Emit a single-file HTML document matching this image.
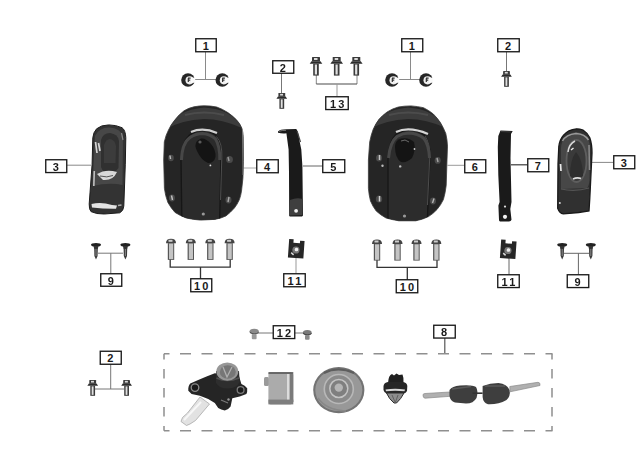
<!DOCTYPE html>
<html><head><meta charset="utf-8">
<style>
html,body{margin:0;padding:0;background:#fff;width:644px;height:452px;overflow:hidden}
svg{display:block;filter:blur(0.3px)}
.lb rect{fill:#fff;stroke:#1a1a1a;stroke-width:1.35}
.lb text{font-family:"Liberation Sans",sans-serif;font-weight:bold;font-size:11px;fill:#1a1a1a;text-anchor:middle;letter-spacing:0.8px}
.ln{stroke:#7a7a7a;stroke-width:1;fill:none}
</style></head><body>
<svg width="644" height="452" viewBox="0 0 644 452">
<defs>
  <radialGradient id="nut" cx="50%" cy="50%" r="50%">
    <stop offset="0" stop-color="#eee"/><stop offset="0.45" stop-color="#888"/><stop offset="0.6" stop-color="#222"/><stop offset="1" stop-color="#333"/>
  </radialGradient>
  <linearGradient id="bolt" x1="0" x2="1" y1="0" y2="0">
    <stop offset="0" stop-color="#555"/><stop offset="0.5" stop-color="#ccc"/><stop offset="1" stop-color="#666"/>
  </linearGradient>
  <linearGradient id="coverTop" x1="0" x2="0" y1="0" y2="1">
    <stop offset="0" stop-color="#4a4a4a"/><stop offset="0.3" stop-color="#333"/><stop offset="1" stop-color="#222"/>
  </linearGradient>

  <g id="fb">
    <path d="M-4 0.5 Q-4 0 -3.5 0 L3.5 0 Q4 0 4 0.5 L4 4.3 L-4 4.3 Z" fill="#3a3a3a"/>
    <rect x="-2" y="1" width="3.5" height="2" fill="#d8d8d8"/>
    <path d="M-6.3 6.8 L-4.5 4.2 L4.5 4.2 L6.3 6.8 Z" fill="#2c2c2c"/>
    <rect x="-2.8" y="6.8" width="5.6" height="11.8" fill="#3a3a3a"/>
    <rect x="-1.2" y="7.5" width="2.2" height="10" fill="#e0e0e0"/>
  </g>

  <g id="scr">
    <ellipse cx="0" cy="1.8" rx="5" ry="1.9" fill="#222"/>
    <path d="M-2.5 3 L2.5 3 L1.8 6 L-1.8 6 Z" fill="#333"/>
    <path d="M-1.8 5.5 L1.8 5.5 L1.6 13 L0 16.5 L-1.6 13 Z" fill="#3a3a3a"/>
    <rect x="-0.5" y="6" width="1" height="7" fill="#888"/>
  </g>
  <g id="b10">
    <path d="M-5 4.4 Q-5 0 0 0 Q5 0 5 4.4 Z" fill="#444"/>
    <rect x="-2.5" y="1" width="4" height="2" fill="#ccc"/>
    <rect x="-3.2" y="4.3" width="6.4" height="16.8" fill="#555"/>
    <rect x="-2" y="4.8" width="4.2" height="15.5" fill="#c4c4c4"/>
  </g>
  <g id="clip">
    <path d="M-7.5 -9.5 L-3 -9.5 L-3 -6 L3.5 -6 L3.5 -8.5 L8 -8.5 L8 9 L-7.5 9 Z" fill="#262626"/>
    <circle cx="0" cy="1" r="3.6" fill="#777"/>
    <circle cx="0.5" cy="0.5" r="1.8" fill="#eee"/>
    <path d="M-4.5 4 L-2 6" stroke="#ddd" stroke-width="1.5"/>
  </g>

  <clipPath id="c4"><path d="M163.7 160 L164.3 141.9 Q165.8 135 168.5 130 Q171 124.5 174.8 120 Q179 114.5 184 110.8 Q188.5 108 194 106.8 Q199 105.8 204.1 105.8 Q211 105.8 216.7 107 Q222.5 109 227.9 112.6 Q232.5 115.8 236.3 119.6 Q240 123.5 241.8 128 Q243 132 243.2 136.3 L243.5 161.5 L242.9 178.4 L241.5 191.1 Q240.8 195.6 239.4 199.6 Q237.2 204.5 234.4 208 Q230.5 212.5 226 215.9 Q220.5 218.6 214.6 219.4 L200.5 220.1 Q193 219.6 186.3 218 Q180 215.6 175 212.4 Q170.8 207.8 167.9 202.5 Q165.2 195.5 164.4 188.3 Z"/></clipPath>
  <clipPath id="c6"><path d="M368.4 160 L369.7 141.9 Q371 135 373.2 129.3 Q375.5 124 378.8 119.6 Q382.5 115.2 387.2 111.9 Q392.5 108.6 398.3 107 Q404.5 105.9 410.9 105.9 Q417.5 106.3 423.5 107.7 Q428.8 110.3 433.3 114 Q437.3 118 440.3 122.4 Q443.4 127.5 445.8 133.5 Q447.2 139.5 447.5 146.1 L447 160 L446.2 185.5 Q445.3 193 443.4 199.6 Q440.8 205 437 209.5 Q433 213.8 428.5 216.6 Q422.5 219.6 415.8 220.8 L398.8 220.8 Q392 219.7 386 218 Q380.5 215 376.2 211 Q372.8 206.5 370.5 201 Q368.9 194.8 368.4 188.3 Z"/></clipPath>
</defs>

<!-- ========== connector lines ========== -->
<g fill="none" stroke-width="1">
  <!-- 1 L -->
  <path d="M205.5 52 V79.5 M193 79.5 H217" stroke="#8a8a8a"/>
  <!-- 2 top -->
  <path d="M281.5 73 V93" stroke="#777"/>
  <!-- 13 -->
  <path d="M316.3 75 V84 M357 75 V84" stroke="#888"/>
  <path d="M316.3 84 H357" stroke="#4a4a4a" stroke-width="1.2"/>
  <path d="M337 84 V96.5" stroke="#999"/>
  <!-- 1 R -->
  <path d="M410.5 52 V79.5 M395 79.5 H422" stroke="#8a8a8a"/>
  <!-- 2 R -->
  <path d="M506.5 52 V71" stroke="#777"/>
  <!-- 3 L -->
  <path d="M67 165.2 H91" stroke="#888"/>
  <!-- 4 -->
  <path d="M242 168 H256.5" stroke="#aaa"/>
  <!-- 5 -->
  <path d="M303 166 H322.5" stroke="#666"/>
  <!-- 6 -->
  <path d="M447.5 165.3 H464.5" stroke="#9a9a9a"/>
  <!-- 7 -->
  <path d="M511 164.8 H527.5" stroke="#3a3a3a" stroke-width="1.2"/>
  <!-- 3 R -->
  <path d="M591 162.4 H613.5" stroke="#888"/>
  <!-- 9 L -->
  <path d="M98 253.2 H123 M110.8 253.2 V273.6" stroke="#777"/>
  <!-- 10 L -->
  <path d="M170.2 258 V267.2 H230.2 V258 M200.5 267.2 V279" stroke="#333" stroke-width="1.3"/>
  <!-- 11 L -->
  <path d="M296 256 V273.6" stroke="#999"/>
  <!-- 10 R -->
  <path d="M377 258 V267.4 H437 V258 M407.3 267.4 V280" stroke="#333" stroke-width="1.3"/>
  <!-- 11 R -->
  <path d="M509 257 V274.4" stroke="#666"/>
  <!-- 9 R -->
  <path d="M564 253.3 H589 M578.4 253.3 V274.4" stroke="#666"/>
  <!-- 12 -->
  <path d="M258 333 H273 M295 333 H304" stroke="#777"/>
  <!-- 2 B -->
  <path d="M110.7 364.4 V389 M95 389 H124" stroke="#777"/>
  <!-- 8 -->
  <path d="M444.8 338 V353" stroke="#555" stroke-width="1.2"/>
</g>

<!-- dashed box -->
<g stroke="#8f8f8f" stroke-width="1.5" fill="none">
  <path d="M164 353.7 H552.5" stroke-dasharray="11 10.5" stroke-dashoffset="5.5"/>
  <path d="M164 430.7 H552.5" stroke-dasharray="11 10.5" stroke-dashoffset="5.5"/>
  <path d="M164 353.7 V430.7" stroke-dasharray="9.5 9.5" stroke-dashoffset="3.7"/>
  <path d="M552 353.7 V430.7" stroke-dasharray="9.5 9.5" stroke-dashoffset="3.7"/>
</g>

<!-- ========== labels ========== -->
<g class="lb">
  <g transform="translate(195.75,38.75)"><rect width="20.5" height="13"/><text x="10.5" y="11">1</text></g>
  <g transform="translate(272.75,60.75)"><rect width="21" height="12.5"/><text x="10.5" y="10.8">2</text></g>
  <g transform="translate(325.75,96.75)"><rect width="22.5" height="12.8"/><text x="12.5" y="11" style="letter-spacing:2.2px">13</text></g>
  <g transform="translate(401.75,38.75)"><rect width="21" height="13"/><text x="10.5" y="11">1</text></g>
  <g transform="translate(497.75,38.75)"><rect width="21.5" height="13"/><text x="10.8" y="11">2</text></g>
  <g transform="translate(45.75,159.75)"><rect width="21" height="12.8"/><text x="10.5" y="11">3</text></g>
  <g transform="translate(256.75,159.75)"><rect width="21.5" height="13"/><text x="10.8" y="11">4</text></g>
  <g transform="translate(322.75,159.75)"><rect width="22" height="12.8"/><text x="11" y="11">5</text></g>
  <g transform="translate(464.75,159.75)"><rect width="21" height="13"/><text x="10.5" y="11">6</text></g>
  <g transform="translate(527.75,158.75)"><rect width="21" height="13"/><text x="10.5" y="11">7</text></g>
  <g transform="translate(613.75,155.75)"><rect width="21" height="13"/><text x="10.5" y="11">3</text></g>
  <g transform="translate(100.75,273.75)"><rect width="21" height="12.5"/><text x="10.5" y="10.8">9</text></g>
  <g transform="translate(190.75,278.75)"><rect width="21" height="13"/><text x="11.5" y="11" style="letter-spacing:2.2px">10</text></g>
  <g transform="translate(283.75,273.75)"><rect width="21.5" height="13"/><text x="11.8" y="11" style="letter-spacing:2.2px">11</text></g>
  <g transform="translate(396.25,279.75)"><rect width="21.5" height="13"/><text x="11.8" y="11" style="letter-spacing:2.2px">10</text></g>
  <g transform="translate(497.75,274.75)"><rect width="21.5" height="12.8"/><text x="11.8" y="11" style="letter-spacing:2.2px">11</text></g>
  <g transform="translate(567.25,274.75)"><rect width="21.5" height="12.8"/><text x="10.8" y="11">9</text></g>
  <g transform="translate(273.25,325.75)"><rect width="21.5" height="12.8"/><text x="11.8" y="11" style="letter-spacing:2.2px">12</text></g>
  <g transform="translate(100.25,351.25)"><rect width="21" height="13"/><text x="10.5" y="11">2</text></g>
  <g transform="translate(433.75,325.25)"><rect width="21.5" height="12.8"/><text x="10.8" y="11">8</text></g>
</g>

<!-- ========== parts ========== -->
<!-- nuts part 1 -->
<g>
  <g transform="translate(188,80)"><circle r="6.8" fill="#262626"/><circle cx="1.6" cy="0.3" r="4.1" fill="#efefef"/><rect x="3" y="-2.4" width="4.2" height="5.2" fill="#fafafa"/><path d="M0 -1.8 H2.6 M0.3 -1.8 V2 M0.3 0.2 H2.2" stroke="#333" stroke-width="1.2" fill="none"/></g>
  <g transform="translate(222.3,80)"><circle r="6.8" fill="#262626"/><circle cx="1.6" cy="0.3" r="4.1" fill="#efefef"/><rect x="3" y="-2.4" width="4.2" height="5.2" fill="#fafafa"/><path d="M0 -1.8 H2.6 M0.3 -1.8 V2 M0.3 0.2 H2.2" stroke="#333" stroke-width="1.2" fill="none"/></g>
  <g transform="translate(392,80)"><circle r="6.8" fill="#262626"/><circle cx="1.6" cy="0.3" r="4.1" fill="#efefef"/><rect x="3" y="-2.4" width="4.2" height="5.2" fill="#fafafa"/><path d="M0 -1.8 H2.6 M0.3 -1.8 V2 M0.3 0.2 H2.2" stroke="#333" stroke-width="1.2" fill="none"/></g>
  <g transform="translate(426,80)"><circle r="6.8" fill="#262626"/><circle cx="1.6" cy="0.3" r="4.1" fill="#efefef"/><rect x="3" y="-2.4" width="4.2" height="5.2" fill="#fafafa"/><path d="M0 -1.8 H2.6 M0.3 -1.8 V2 M0.3 0.2 H2.2" stroke="#333" stroke-width="1.2" fill="none"/></g>
</g>

<!-- flange bolts (part 2, 13) -->
<g>
  <g transform="translate(281.8,93)"><use href="#fb" transform="scale(0.85)"/></g>
  <g transform="translate(316,57)"><use href="#fb"/></g>
  <g transform="translate(336.7,57)"><use href="#fb"/></g>
  <g transform="translate(356.3,57)"><use href="#fb"/></g>
  <g transform="translate(506.5,71)"><use href="#fb" transform="scale(0.85)"/></g>
  <g transform="translate(92.7,380)"><use href="#fb" transform="scale(0.85)"/></g>
  <g transform="translate(126.6,380)"><use href="#fb" transform="scale(0.85)"/></g>
</g>

<!-- part 3 left -->
<g>
  <path d="M108.7 124.9 Q101 125 96.6 128.8 Q93.5 132 92.8 137.7 L92.1 164.2 L90 192.9 L89.2 204 Q89 209.5 91 211.6 Q96 214.2 104.3 214 L119.8 212.8 Q123.5 211 123.8 206.1 L125.3 164.2 L125.8 137.7 Q125.5 130 122 127.7 Q116 124.9 108.7 124.9 Z" fill="#333" stroke="#1c1c1c" stroke-width="1"/>
  <path d="M95 136 Q99 127.5 109 127.5 Q121 128 123 137 L122.5 185 Q110 182 92.5 186 Z" fill="#474747"/>
  <path d="M101 140 Q103 133 110 133 Q118 134 119 141 L118.5 168 Q114 174 109 174 Q103 173 101 167 Z" fill="#303030"/>
  <path d="M104 145 Q106 139 110 139 Q115 140 116 146 L115.5 163 L104 163 Z" fill="#3c3c3c"/>
  <path d="M95.5 142 L97 153 M98.5 143 L100 151" stroke="#d5d5d5" stroke-width="1.7"/>
  <path d="M94.3 171 L93.8 186" stroke="#c0c0c0" stroke-width="1.6"/>
  <path d="M97 174 Q106 168.5 117 172 Q113 181 103 180 Z" fill="#d8d8d8"/>
  <path d="M100 176 Q107 178 113 175.5" stroke="#555" stroke-width="1" fill="none"/>
  <path d="M91.5 204 Q101 201.5 112 205 L117 205.5 L116 208.8 Q104 209 92 207.5 Z" fill="#e4e4e4"/>
  <path d="M118 205.5 L121.5 205" stroke="#aaa" stroke-width="1.4"/>
  <path d="M121.5 133 L123 140" stroke="#8a8a8a" stroke-width="1.2"/>
</g>
<!-- part 4 cover -->
<g>
  <path d="M163.7 160 L164.3 141.9 Q165.8 135 168.5 130 Q171 124.5 174.8 120 Q179 114.5 184 110.8 Q188.5 108 194 106.8 Q199 105.8 204.1 105.8 Q211 105.8 216.7 107 Q222.5 109 227.9 112.6 Q232.5 115.8 236.3 119.6 Q240 123.5 241.8 128 Q243 132 243.2 136.3 L243.5 161.5 L242.9 178.4 L241.5 191.1 Q240.8 195.6 239.4 199.6 Q237.2 204.5 234.4 208 Q230.5 212.5 226 215.9 Q220.5 218.6 214.6 219.4 L200.5 220.1 Q193 219.6 186.3 218 Q180 215.6 175 212.4 Q170.8 207.8 167.9 202.5 Q165.2 195.5 164.4 188.3 Z" fill="#252525" stroke="#3a3a3a" stroke-width="0.8"/>
  <path d="M166 129 Q176 110 204 107.5 Q232 109 242 128 Q222 119 204 119 Q182 120 166 129 Z" fill="#3c3c3c" clip-path="url(#c4)"/>
  <path d="M185 115 Q204 110 224 115" stroke="#4c4c4c" stroke-width="2" fill="none"/>
  <path d="M182 228 L181 160 Q181.5 142 189.5 135 Q196 130.5 202 130.5 Q210 130.5 215.5 135 Q222 142 221 158 L219.5 228" fill="#2b2b2b" stroke="#161616" stroke-width="1.3" clip-path="url(#c4)"/>
  <path d="M216.5 136.5 Q222.5 143 221.8 158 L220.5 200" stroke="#5a5a5a" stroke-width="0.8" fill="none"/>
  <path d="M191 132 Q203 127 217 133" stroke="#cfcfcf" stroke-width="2.2" fill="none"/>
  <path d="M181.5 160 Q182 143 190 137.5 Q196 133.5 202.5 133.5 Q210 134 215.5 139 Q220 146 219.8 160" stroke="#474747" stroke-width="3" fill="none"/>
  <path d="M197 141 Q194 145 197 151 Q201 160 208 163 Q214 163 215.5 157 Q216 150 211 144 Q206 138 201 138.5 Z" fill="#141414"/>
  <circle cx="200" cy="142" r="1.6" fill="#5a5a5a"/>
  <circle cx="210.4" cy="165.4" r="0.9" fill="#ddd"/>
  <ellipse cx="171" cy="158" rx="2.8" ry="3.2" fill="#4a4a4a"/>
  <path d="M170 155.5 L170.5 159" stroke="#bbb" stroke-width="1.4"/>
  <ellipse cx="229.5" cy="159.5" rx="3.4" ry="3.6" fill="#4a4a4a"/>
  <path d="M228 157 L229 161" stroke="#999" stroke-width="1.4"/>
  <ellipse cx="172" cy="198" rx="3" ry="3.4" fill="#4a4a4a"/>
  <path d="M171.5 195.5 L172.5 200" stroke="#c5c5c5" stroke-width="1.4"/>
  <ellipse cx="228.5" cy="200" rx="3" ry="3.4" fill="#4a4a4a"/>
  <path d="M229 197 L228 202" stroke="#aaa" stroke-width="1.4"/>
  <circle cx="203.3" cy="214" r="1.6" fill="#999"/>
  <path d="M242.5 130 L243 175" stroke="#8a8a8a" stroke-width="0.8"/>
</g>
<!-- part 5 strap -->
<g>
  <path d="M278 131.5 Q280 129.3 286.4 129.2 L296.3 128.9 Q298.5 132 299 138.6 L301.3 149.6 L302.4 166.2 L303 215.4 L302 216.5 L290 216.5 L289.2 216 L289 171.7 L288.6 149.6 L286.4 133.3 Q282 133.8 278 132.8 Z" fill="#1a1a1a"/>
  <path d="M279 131.3 Q282 130.2 286 130.3" stroke="#777" stroke-width="1" fill="none"/>
  <path d="M297 131 L300.5 142" stroke="#444" stroke-width="1.2"/>
  <path d="M290 200 Q297 197 302.5 199 L302.5 215 L290 215.5 Z" fill="#3f3f3f"/>
  <circle cx="296.1" cy="210.8" r="1.9" fill="#f0f0f0"/>
</g>
<!-- part 6 cover -->
<g>
  <path d="M368.4 160 L369.7 141.9 Q371 135 373.2 129.3 Q375.5 124 378.8 119.6 Q382.5 115.2 387.2 111.9 Q392.5 108.6 398.3 107 Q404.5 105.9 410.9 105.9 Q417.5 106.3 423.5 107.7 Q428.8 110.3 433.3 114 Q437.3 118 440.3 122.4 Q443.4 127.5 445.8 133.5 Q447.2 139.5 447.5 146.1 L447 160 L446.2 185.5 Q445.3 193 443.4 199.6 Q440.8 205 437 209.5 Q433 213.8 428.5 216.6 Q422.5 219.6 415.8 220.8 L398.8 220.8 Q392 219.7 386 218 Q380.5 215 376.2 211 Q372.8 206.5 370.5 201 Q368.9 194.8 368.4 188.3 Z" fill="#252525" stroke="#3a3a3a" stroke-width="0.8"/>
  <path d="M370 129 Q380 110 408 107.5 Q434 109 446 128 Q426 119 408 119 Q386 120 370 129 Z" fill="#3c3c3c" clip-path="url(#c6)"/>
  <path d="M389 115 Q408 110 428 115" stroke="#4c4c4c" stroke-width="2" fill="none"/>
  <path d="M388 228 L388 158 Q389 141 396 134.5 Q403 130 409 130 Q418 130 424 135 Q430 142 430 156 L427 228" fill="#2c2c2c" stroke="#161616" stroke-width="1.3" clip-path="url(#c6)"/>
  <path d="M425 136 Q430 143 429.8 156 L427.5 205" stroke="#5a5a5a" stroke-width="0.8" fill="none"/>
  <path d="M396 132 Q409 126 428 134" stroke="#d4d4d4" stroke-width="2.3" fill="none"/>
  <path d="M388.5 158 Q390 142 397 136.5 Q403 133 409 133 Q418 133.5 424 138.5 Q429 145 429.5 158" stroke="#484848" stroke-width="3" fill="none"/>
  <path d="M395 147 Q395 140 401 138.5 Q409 137 414 142 Q416 150 412 158 Q407 163 401 162 Q395 158 395 147 Z" fill="#141414"/>
  <path d="M401 141 L405 140 L409 142" stroke="#6a6a6a" stroke-width="1" fill="none"/>
  <circle cx="414.5" cy="149" r="0.9" fill="#ccc"/>
  <ellipse cx="379" cy="158" rx="3" ry="3.6" fill="#4a4a4a"/>
  <path d="M379.5 155 L379.5 160" stroke="#c5c5c5" stroke-width="1.5"/>
  <ellipse cx="437.7" cy="160.4" rx="3" ry="3.4" fill="#4a4a4a"/>
  <path d="M437 158 L438 162" stroke="#a5a5a5" stroke-width="1.4"/>
  <ellipse cx="379" cy="199" rx="3.2" ry="3.6" fill="#4a4a4a"/>
  <path d="M379.5 196 L379.5 201.5" stroke="#d0d0d0" stroke-width="1.5"/>
  <ellipse cx="433" cy="201" rx="3" ry="3.4" fill="#4a4a4a"/>
  <path d="M434 198.5 L432.5 203" stroke="#b5b5b5" stroke-width="1.4"/>
  <circle cx="404.5" cy="216" r="1.6" fill="#999"/>
  <circle cx="382.5" cy="165.7" r="1.2" fill="#bbb"/>
  <circle cx="400.2" cy="166.4" r="1.2" fill="#bbb"/>
</g>
<!-- part 7 strap -->
<g>
  <path d="M500.5 130.5 L512.7 131.1 L511 134 L510.5 158 L511.5 202 L510.3 209 L511.5 219.8 Q511 221.5 509 221.5 L500 221.5 Q498.8 221 499 219.8 L498.4 205.5 L499.6 202 L498.3 175 L497.8 147 L498.3 136 Z" fill="#1a1a1a"/>
  <path d="M501 131.5 L511.5 132" stroke="#3a3a3a" stroke-width="1.2"/>
  <circle cx="505" cy="206.6" r="1.1" fill="#ddd"/>
  <circle cx="505" cy="216.8" r="2.1" fill="#f2f2f2"/>
</g>
<!-- part 3 right -->
<g>
  <path d="M576.5 128.8 Q568 129.5 563.3 135.5 Q559.5 140 558.8 146.5 L558 164.2 L557.7 208.4 Q559.5 213.5 563.3 213.9 L578.7 212.5 L589 211 Q589.8 200 590.4 186.3 L592 153.1 Q592 144 589.8 137.7 Q587 132.5 583 130 Q580 128.8 576.5 128.8 Z" fill="#303030" stroke="#1a1a1a" stroke-width="1.3"/>
  <path d="M561 148 Q562 134 576 132 Q588 133 590 146 L589.5 180 Q589 186 587 188 L561 189 Z" fill="#474747"/>
  <path d="M562.5 141 Q566 134.5 576 133.5 Q585 134 588.5 140" stroke="#9a9a9a" stroke-width="1.5" fill="none"/>
  <ellipse cx="576.5" cy="161" rx="10" ry="21" fill="#3a3a3a" stroke="#5e5e5e" stroke-width="1.8"/>
  <path d="M570 176 Q570 160 576 152 Q583 160 583 176 Q577 181 570 176 Z" fill="#2e2e2e"/>
  <path d="M568 152 Q569 144 575 141" stroke="#d8d8d8" stroke-width="1.5" fill="none"/>
  <path d="M571 150 L573.5 148" stroke="#eee" stroke-width="1.5"/>
  <path d="M589 145 L589.5 170" stroke="#8a8a8a" stroke-width="1.5"/>
  <path d="M573 179 Q577 177 581 178.5" stroke="#dcdcdc" stroke-width="1.6" fill="none"/>
  <path d="M560.5 164 L561 171" stroke="#e8e8e8" stroke-width="1.7"/>
  <circle cx="559.8" cy="203" r="1" fill="#ddd"/>
  <path d="M561 189 Q575 192 589 188" stroke="#555" stroke-width="1.2" fill="none"/>
</g>

<!-- screws part 9 -->
<g>
  <use href="#scr" x="96" y="243"/>
  <use href="#scr" x="125.4" y="243"/>
  <use href="#scr" x="562.2" y="243"/>
  <use href="#scr" x="590.8" y="243"/>
</g>
<!-- bolts part 10 -->
<g>
  <use href="#b10" x="171" y="238.8"/>
  <use href="#b10" x="190.8" y="238.8"/>
  <use href="#b10" x="210.3" y="238.8"/>
  <use href="#b10" x="229.6" y="238.8"/>
  <use href="#b10" x="377" y="239.5"/>
  <use href="#b10" x="397.5" y="239.5"/>
  <use href="#b10" x="416.5" y="239.5"/>
  <use href="#b10" x="436.3" y="239.5"/>
</g>
<!-- clips part 11 -->
<g>
  <g transform="translate(296,249) rotate(4)"><use href="#clip"/></g>
  <g transform="translate(508,249.5) rotate(4)"><use href="#clip"/></g>
</g>
<!-- part 12 screws -->
<g>
  <ellipse cx="254.2" cy="331.6" rx="4.7" ry="2.9" fill="#8a8a8a"/>
  <path d="M249.8 332 Q254 335.5 258.6 332.5" stroke="#555" stroke-width="1" fill="none"/>
  <rect x="251.8" y="334" width="4.8" height="5.2" rx="1" fill="#9a9a9a"/>
  <ellipse cx="307.3" cy="332.8" rx="4.4" ry="2.7" fill="#7a7a7a"/>
  <path d="M303 333 Q307 336.5 311.6 333.5" stroke="#444" stroke-width="1" fill="none"/>
  <rect x="305" y="335" width="4.6" height="4.8" rx="1" fill="#8a8a8a"/>
</g>

<!-- ignition switch -->
<g>
  <path d="M200 397 L209.5 404 L195.5 420.5 L190 424 L186.5 425.5 L181 421.5 L182.5 417.5 L187.5 413 Z" fill="#e2e2e2" stroke="#a8a8a8" stroke-width="0.8"/>
  <path d="M184 420 L201 402" stroke="#f7f7f7" stroke-width="2"/>
  <path d="M188.3 390.7 L188.3 388.2 Q189 384 190.8 383.2 L198.2 379.9 L206.5 376.6 L214.8 373.3 L238.9 376 Q240.5 381 241.4 384 Q245 385.5 247.2 388.2 Q247.5 392 246.4 394 L239.7 396.5 L232.3 398.2 L230.6 406.5 Q228 410 224.8 410.6 Q221 410 218.2 408.1 L214.8 403.1 L208.2 399 L199.9 395.7 L191.6 394 Z" fill="#252525"/>
  <circle cx="195" cy="387.6" r="3.8" fill="#1a1a1a" stroke="#8a8a8a" stroke-width="1.3"/>
  <circle cx="240.6" cy="390" r="3.4" fill="#1a1a1a" stroke="#7a7a7a" stroke-width="1.3"/>
  <path d="M216 371 L216 383 Q219 388.5 228 388.5 Q237 388 239.7 382 L239 371 Z" fill="#2e2e2e"/>
  <path d="M216.5 378 Q227 383 239 378" stroke="#505050" stroke-width="1.5" fill="none"/>
  <ellipse cx="227.3" cy="371.6" rx="11" ry="9.2" fill="#979797"/>
  <ellipse cx="227.8" cy="372" rx="8" ry="6.8" fill="#767676"/>
  <path d="M223 367 L227 377 L232 367" stroke="#b0b0b0" stroke-width="1.3" fill="none"/>
  <path d="M221 400 L228 403" stroke="#7a7a7a" stroke-width="1.2"/>
  <circle cx="228.5" cy="399.5" r="1.2" fill="#999"/>
</g>
<!-- lock barrel -->
<g>
  <rect x="264" y="377" width="5" height="9" rx="1.5" fill="#9a9a9a"/>
  <path d="M268.4 374 Q268.4 372.2 270.5 372.2 L291 372.2 Q293.3 373 293.3 375 L293.3 402 Q293 404.4 290.5 404.4 L270.5 404.4 Q268.4 404.4 268.4 402 Z" fill="#ababab"/>
  <rect x="268.4" y="372.2" width="24.9" height="1.6" fill="#555"/>
  <rect x="287" y="374" width="2.2" height="26" fill="#dcdcdc"/>
  <rect x="290" y="374" width="3.3" height="28" fill="#7a7a7a"/>
  <rect x="268.4" y="399.6" width="24.9" height="4.8" fill="#7e7e7e"/>
</g>
<!-- fuel cap -->
<g>
  <ellipse cx="338.8" cy="390.1" rx="25.6" ry="23.1" fill="#737373"/>
  <ellipse cx="338.8" cy="390.1" rx="23.5" ry="21" fill="#989898"/>
  <path d="M324 373 Q338 366 354 373" stroke="#5e5e5e" stroke-width="2.2" fill="none"/>
  <circle cx="338.8" cy="389" r="14.5" fill="#8a8a8a" stroke="#b8b8b8" stroke-width="1.6"/>
  <circle cx="338.8" cy="388.5" r="9" fill="#7f7f7f" stroke="#c4c4c4" stroke-width="1.5"/>
  <circle cx="338.8" cy="387.6" r="4.2" fill="#b5b5b5"/>
  <path d="M318 398 Q326 410 346 411" stroke="#888" stroke-width="1.5" fill="none"/>
</g>
<!-- small lock -->
<g>
  <path d="M388 383 Q388.5 375 392 374 L394 375.5 L396.5 373.5 L399 375 L402.5 374.5 Q404 378 403.5 383 Z" fill="#202020"/>
  <path d="M383.5 386 Q384 382.5 388 382 L403 382 Q407 382.5 407.3 386 L407 391 Q406 393 403.5 393.5 L386.5 393.5 Q384 392.5 383.5 390 Z" fill="#262626"/>
  <path d="M385.5 389.5 Q395 387.8 405 389.5 L404.5 391.3 Q395 390 386 391.3 Z" fill="#d8d8d8"/>
  <path d="M386.5 393 L404 393 Q401 399 396.5 403 L394 403 Q389 399 386.5 393 Z" fill="#8d8d8d" stroke="#2a2a2a" stroke-width="1"/>
  <path d="M392 395 L395 402 M398 395 L395.5 402" stroke="#555" stroke-width="0.8"/>
</g>
<!-- keys -->
<g>
  <path d="M423 395 Q423 393.5 425 393.5 L450 392 L450.3 396.3 L425 398.2 Q423 398 423 395 Z" fill="#b0b0b0" stroke="#8a8a8a" stroke-width="0.7"/>
  <path d="M449.5 390 Q452 386.3 460 385.6 Q472 384.6 476 387 Q478.5 391 476.5 398 Q473.5 403.5 466 403.5 L455 402.6 Q450 400.5 449.5 396 Z" fill="#3e3e3e"/>
  <path d="M452 389 L471 386.5" stroke="#5a5a5a" stroke-width="1.5"/>
  <path d="M472.5 393.2 L482.6 393.2" stroke="#333" stroke-width="1.6"/>
  <path d="M482.6 386 Q490 383 498.5 383 Q507 383.8 509.6 390 Q510.8 396 506.5 400 Q498 404.8 488 404.3 Q483 402.5 482.6 397 Z" fill="#3e3e3e"/>
  <path d="M485 386 L505 386" stroke="#5a5a5a" stroke-width="1.5"/>
  <path d="M509.8 386.5 L538 382.3 Q540.5 382.5 540 385.5 L510 391.8 Z" fill="#b0b0b0" stroke="#8a8a8a" stroke-width="0.7"/>
</g>
</svg>
</body></html>
